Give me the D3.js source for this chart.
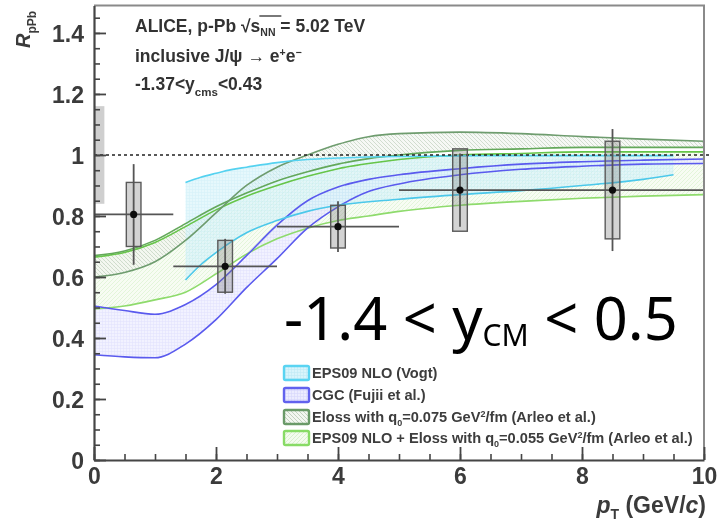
<!DOCTYPE html>
<html>
<head>
<meta charset="utf-8">
<script src="https://cdn.jsdelivr.net/npm/d3@7"></script>
<style>
  html, body { margin: 0; padding: 0; background: #fff; }
  svg { display: block; }
</style>
</head>
<body>
<svg id="chart" width="720" height="523"></svg>
<script>
// ---- measured inclusive J/psi R_pPb in pT bins ----
const ptCenters = [0.65, 2.15, 4.0, 6.0, 8.5];
const ptLow     = [0, 1.3, 3, 5, 7];
const ptHigh    = [1.3, 3, 5, 7, 10];
const rpPb      = [0.805, 0.635, 0.765, 0.885, 0.885];
const statErr   = [0.165, 0.09, 0.083, 0.12, 0.2];
const systErr   = [0.105, 0.085, 0.07, 0.135, 0.16];
const globalErr = 0.16;

// ---- model bands ----
const vogtPt   = [1.5, 1.75, 2, 2.25, 2.5, 3, 3.5, 4, 5, 6, 7, 8, 9, 9.5];
const vogtHigh = [0.91, 0.927, 0.94, 0.952, 0.96, 0.975, 0.985, 0.99, 0.995, 0.997, 0.998, 0.998, 0.998, 0.998];
const vogtLow  = [0.59, 0.64, 0.68, 0.715, 0.745, 0.785, 0.815, 0.835, 0.855, 0.87, 0.883, 0.9, 0.92, 0.935];

const modelPt  = [0, 0.5, 1, 1.5, 2, 2.5, 3, 3.5, 4, 4.5, 5, 6, 7, 8, 9, 10];
const cgcHigh  = [0.505, 0.49, 0.478, 0.51, 0.575, 0.67, 0.77, 0.85, 0.895, 0.92, 0.935, 0.955, 0.97, 0.978, 0.983, 0.987];
const cgcLow   = [0.345, 0.338, 0.335, 0.38, 0.46, 0.565, 0.66, 0.76, 0.83, 0.88, 0.905, 0.935, 0.953, 0.963, 0.97, 0.972];
const elossA   = [0.60, 0.615, 0.65, 0.72, 0.81, 0.90, 0.96, 1.0, 1.035, 1.06, 1.07, 1.075, 1.07, 1.06, 1.052, 1.045];
const elossB   = [0.67, 0.685, 0.72, 0.775, 0.83, 0.875, 0.915, 0.945, 0.97, 0.988, 1.0, 1.015, 1.02, 1.025, 1.025, 1.025];
const epsElossHigh = [0.665, 0.68, 0.713, 0.765, 0.82, 0.865, 0.9, 0.93, 0.955, 0.972, 0.985, 1.0, 1.005, 1.01, 1.01, 1.01];
const epsElossLow  = [0.495, 0.505, 0.525, 0.55, 0.61, 0.675, 0.725, 0.76, 0.785, 0.8, 0.815, 0.835, 0.848, 0.858, 0.865, 0.87];

// ---- axes ----
const yTicks = [0, 0.2, 0.4, 0.6, 0.8, 1, 1.2, 1.4];
const yTickLabels = ["0", "0.2", "0.4", "0.6", "0.8", "1", "1.2", "1.4"];
const xTicks = [0, 2, 4, 6, 8, 10];
const xTickLabels = ["0", "2", "4", "6", "8", "10"];

const legendLabels = [
  [{t: "EPS09 NLO (Vogt)"}],
  [{t: "CGC (Fujii et al.)"}],
  [{t: "Eloss with  q"}, {t: "0", sub: true}, {t: "=0.075 GeV"}, {t: "2", sup: true}, {t: "/fm (Arleo et al.)"}],
  [{t: "EPS09 NLO + Eloss with  q"}, {t: "0", sub: true}, {t: "=0.055 GeV"}, {t: "2", sup: true}, {t: "/fm (Arleo et al.)"}]
];

const svg = d3.select("#chart");
const x = d3.scaleLinear().domain([0, 10]).range([94, 704]);
const y = d3.scaleLinear().domain([0, 1.49]).range([460, 5.5]);

const defs = svg.append("defs");
defs.append("filter").attr("id", "soft")
  .attr("x", "-5%").attr("y", "-5%").attr("width", "110%").attr("height", "110%")
  .append("feGaussianBlur").attr("stdDeviation", 0.6);

function gridPattern(id, bg, line, step) {
  const p = defs.append("pattern").attr("id", id)
    .attr("patternUnits", "userSpaceOnUse").attr("width", step).attr("height", step);
  p.append("rect").attr("width", step).attr("height", step).attr("fill", bg);
  p.append("path").attr("d", `M0,0.5H${step}M0.5,0V${step}`)
    .attr("stroke", line).attr("stroke-width", 0.6).attr("fill", "none");
}
function hatchPattern(id, bg, line, step, back) {
  const p = defs.append("pattern").attr("id", id)
    .attr("patternUnits", "userSpaceOnUse").attr("width", step).attr("height", step);
  p.append("rect").attr("width", step).attr("height", step).attr("fill", bg);
  const s = step;
  const d = back
    ? `M-1,-1L${s + 1},${s + 1}M${-1 - s},-1L1,${s + 1}M${s - 1},-1L${2 * s + 1},${s + 1}`
    : `M-1,${s + 1}L${s + 1},-1M${-1 - s},${s + 1}L1,-1M${s - 1},${s + 1}L${2 * s + 1},-1`;
  p.append("path").attr("d", d).attr("stroke", line).attr("stroke-width", 0.8).attr("fill", "none");
}
gridPattern("fillVogt", "#d9f4fb", "#bfeaf5", 3);
gridPattern("fillCgc", "#ececff", "#d6d6fb", 3);
hatchPattern("fillEloss", "#f3f6f1", "#b5c9b2", 4, true);
hatchPattern("fillEpsEloss", "#f4fbef", "#d2efc4", 4, false);

const g = svg.append("g").attr("filter", "url(#soft)");

// global normalisation uncertainty at unity
g.append("rect")
  .attr("x", x(0)).attr("y", y(1 + globalErr))
  .attr("width", x(0.17) - x(0)).attr("height", y(1 - globalErr) - y(1 + globalErr))
  .attr("fill", "#cfcfcf");

// ---- bands ----
function bandData(pts, lo, hi) { return pts.map((p, i) => ({p, lo: lo[i], hi: hi[i]})); }
const area = d3.area().x(d => x(d.p)).y0(d => y(d.lo)).y1(d => y(d.hi)).curve(d3.curveMonotoneX);
const edge = key => d3.line().x(d => x(d.p)).y(d => y(d[key])).curve(d3.curveMonotoneX);

const bands = [
  {data: bandData(modelPt, epsElossLow, epsElossHigh), fill: "fillEpsEloss", op: 0.75, lo: "#8edb6c", hi: "#66c548"},
  {data: bandData(modelPt, elossB, elossA), fill: "fillEloss", op: 0.75, lo: "#63a85a", hi: "#6e9c6e"},
  {data: bandData(modelPt, cgcLow, cgcHigh), fill: "fillCgc", op: 0.7, lo: "#5a5aee", hi: "#5a5aee"},
  {data: bandData(vogtPt, vogtLow, vogtHigh), fill: "fillVogt", op: 0.65, lo: "#4cc8ea", hi: "#55d2f0"}
];
bands.forEach(b => {
  g.append("path").datum(b.data).attr("d", area)
    .attr("fill", `url(#${b.fill})`).attr("fill-opacity", b.op);
});
bands.forEach(b => {
  g.append("path").datum(b.data).attr("d", edge("lo"))
    .attr("fill", "none").attr("stroke", b.lo).attr("stroke-width", 1.6);
  g.append("path").datum(b.data).attr("d", edge("hi"))
    .attr("fill", "none").attr("stroke", b.hi).attr("stroke-width", 1.6);
});

// ---- unity line ----
g.append("line")
  .attr("x1", x(0)).attr("x2", x(10.12)).attr("y1", y(1)).attr("y2", y(1))
  .attr("stroke", "#222").attr("stroke-width", 1.6).attr("stroke-dasharray", "3,3");

// ---- data points ----
const pts = ptCenters.map((c, i) => ({c, lo: ptLow[i], hi: ptHigh[i], v: rpPb[i], st: statErr[i], sy: systErr[i]}));
const boxHalf = 0.12;
g.selectAll(".syst").data(pts).enter().append("rect")
  .attr("x", d => x(d.c - boxHalf)).attr("width", d => x(d.c + boxHalf) - x(d.c - boxHalf))
  .attr("y", d => y(d.v + d.sy)).attr("height", d => y(d.v - d.sy) - y(d.v + d.sy))
  .attr("fill", "rgba(110,110,110,0.3)").attr("stroke", "#5a5a5a").attr("stroke-width", 1.4);
g.selectAll(".stat").data(pts).enter().append("line")
  .attr("x1", d => x(d.c)).attr("x2", d => x(d.c))
  .attr("y1", d => y(d.v + d.st)).attr("y2", d => y(d.v - d.st))
  .attr("stroke", "#555").attr("stroke-width", 1.8);
g.selectAll(".bin").data(pts).enter().append("line")
  .attr("x1", d => x(d.lo)).attr("x2", d => x(d.hi))
  .attr("y1", d => y(d.v)).attr("y2", d => y(d.v))
  .attr("stroke", "#555").attr("stroke-width", 1.8);
g.selectAll(".pt").data(pts).enter().append("circle")
  .attr("cx", d => x(d.c)).attr("cy", d => y(d.v)).attr("r", 3.6).attr("fill", "#111");

// ---- frame ----
g.append("path")
  .attr("d", `M${x(0)},${y(1.49)}H${x(10)}V${y(0)}`)
  .attr("fill", "none").attr("stroke", "#8a8a8a").attr("stroke-width", 2);

// ---- axes ----
const fontAxis = "'Liberation Sans', Arial, sans-serif";
const yMinor = d3.range(0, 1.4751, 0.05);
g.append("g").attr("transform", `translate(${x(0)},0)`)
  .call(d3.axisLeft(y).tickValues(yMinor).tickSizeInner(-6).tickSizeOuter(0).tickFormat(""))
  .call(a => a.select(".domain").remove())
  .selectAll("line").attr("stroke", "#444").attr("stroke-width", 1.6);
const yAx = g.append("g").attr("transform", `translate(${x(0)},0)`)
  .call(d3.axisLeft(y).tickValues(yTicks).tickSizeInner(-12).tickSizeOuter(0).tickPadding(10)
    .tickFormat((d, i) => yTickLabels[i]));
yAx.select(".domain").attr("stroke", "#444").attr("stroke-width", 2.2);
yAx.selectAll("line").attr("stroke", "#444").attr("stroke-width", 1.8);
yAx.selectAll("text").attr("font-family", fontAxis).attr("font-size", 23).attr("font-weight", "bold")
  .attr("fill", "#3a3a3a").attr("dy", "0.36em");

const xMinor = d3.range(0, 10.01, 0.5);
g.append("g").attr("transform", `translate(0,${y(0)})`)
  .call(d3.axisBottom(x).tickValues(xMinor).tickSizeInner(-6).tickSizeOuter(0).tickFormat(""))
  .call(a => a.select(".domain").remove())
  .selectAll("line").attr("stroke", "#444").attr("stroke-width", 1.6);
const xAx = g.append("g").attr("transform", `translate(0,${y(0)})`)
  .call(d3.axisBottom(x).tickValues(xTicks).tickSizeInner(-13).tickSizeOuter(0).tickPadding(8)
    .tickFormat((d, i) => xTickLabels[i]));
xAx.select(".domain").attr("stroke", "#444").attr("stroke-width", 2.2);
xAx.selectAll("line").attr("stroke", "#444").attr("stroke-width", 1.8);
xAx.selectAll("text").attr("font-family", fontAxis).attr("font-size", 23).attr("font-weight", "bold")
  .attr("fill", "#3a3a3a");

// axis titles
const xt = g.append("text").attr("x", 706).attr("y", 513).attr("text-anchor", "end")
  .attr("font-family", fontAxis).attr("font-size", 23).attr("font-weight", "bold").attr("fill", "#3a3a3a");
xt.append("tspan").attr("font-style", "italic").text("p");
xt.append("tspan").attr("font-size", 14).attr("dy", 6).text("T");
xt.append("tspan").attr("dy", -6).text(" (GeV/");
xt.append("tspan").attr("font-style", "italic").text("c");
xt.append("tspan").text(")");

const yt = g.append("text").attr("transform", "translate(30,48) rotate(-90)")
  .attr("font-family", fontAxis).attr("font-size", 20).attr("font-weight", "bold").attr("fill", "#3a3a3a");
yt.append("tspan").attr("font-style", "italic").text("R");
yt.append("tspan").attr("font-size", 12).attr("dy", 6).text("pPb");

// ---- header text ----
const hdrFont = 17.5;
const h1 = g.append("text").attr("x", 135).attr("y", 32)
  .attr("font-family", fontAxis).attr("font-size", hdrFont).attr("font-weight", "bold").attr("fill", "#333");
h1.append("tspan").text("ALICE, p-Pb  ");
h1.append("tspan").text("\u221A");
h1.append("tspan").text("s");
h1.append("tspan").attr("font-size", 10.5).attr("dy", 4).text("NN");
h1.append("tspan").attr("dy", -4).text(" = 5.02 TeV");
{
  const node = h1.node();
  const sIdx = "ALICE, p-Pb  \u221A".length;
  const x0 = node.getStartPositionOfChar(sIdx).x;
  const x1 = node.getEndPositionOfChar(sIdx + 2).x;
  g.append("line").attr("x1", x0 - 1).attr("x2", x1 + 1).attr("y1", 16).attr("y2", 16)
    .attr("stroke", "#333").attr("stroke-width", 1.3);
}
const h2 = g.append("text").attr("x", 135).attr("y", 62)
  .attr("font-family", fontAxis).attr("font-size", hdrFont).attr("font-weight", "bold").attr("fill", "#333");
h2.append("tspan").text("inclusive J/\u03C8 \u2192 e");
h2.append("tspan").attr("font-size", 10.5).attr("dy", -6).text("+");
h2.append("tspan").attr("dy", 6).text("e");
h2.append("tspan").attr("font-size", 10.5).attr("dy", -6).text("\u2212");
const h3 = g.append("text").attr("x", 135).attr("y", 90)
  .attr("font-family", fontAxis).attr("font-size", hdrFont).attr("font-weight", "bold").attr("fill", "#333");
h3.append("tspan").text("-1.37<y");
h3.append("tspan").attr("font-size", 11.5).attr("dy", 6).text("cms");
h3.append("tspan").attr("dy", -6).text("<0.43");

// ---- legend ----
const legendFills = ["fillVogt", "fillCgc", "fillEloss", "fillEpsEloss"];
const legendStrokes = ["#5ad4f2", "#6262ee", "#6a9a68", "#88db66"];
const rowY = [373, 395, 417, 438];
legendLabels.forEach((parts, i) => {
  g.append("rect").attr("x", 284).attr("y", rowY[i] - 7).attr("width", 25).attr("height", 14)
    .attr("rx", 1.5).attr("fill", `url(#${legendFills[i]})`)
    .attr("stroke", legendStrokes[i]).attr("stroke-width", 2.4);
  const t = g.append("text").attr("x", 312).attr("y", rowY[i] + 5)
    .attr("font-family", fontAxis).attr("font-size", 14.6).attr("font-weight", "bold").attr("fill", "#3c3c3c");
  let shift = 0;
  parts.forEach(p => {
    const ts = t.append("tspan").text(p.t);
    let target = p.sub ? 4 : p.sup ? -5 : 0;
    if (p.sub || p.sup) ts.attr("font-size", 9);
    ts.attr("dy", target - shift);
    shift = target;
  });
});

// ---- rapidity annotation ----
const ann = svg.append("text").attr("x", 284).attr("y", 340)
  .attr("font-family", "'Noto Sans', 'Open Sans', sans-serif").attr("font-size", 59.5).attr("fill", "#000");
ann.append("tspan").text("-1.4 < y");
ann.append("tspan").attr("font-size", 30).attr("dy", 6).text("CM");
ann.append("tspan").attr("dy", -6).text(" < 0.5");
</script>
</body>
</html>
